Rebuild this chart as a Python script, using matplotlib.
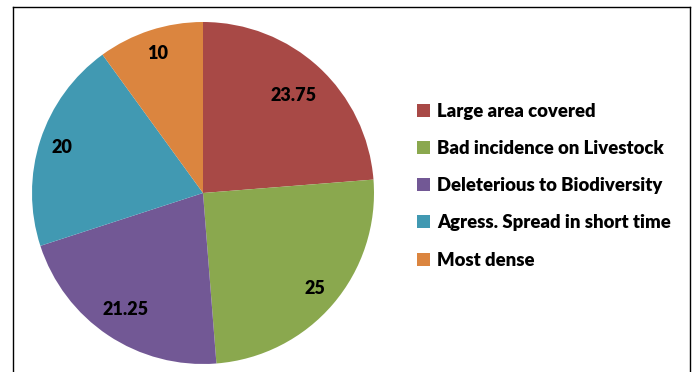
import numpy as np
import matplotlib.pyplot as plt
from matplotlib.lines import Line2D
from matplotlib.patches import Patch

# Datos del gráfico
categorias = ['Large area covered', 'Bad incidence on Livestock',
              'Deleterious to Biodiversity', 'Agress. Spread in short time',
              'Most dense']
valores = [23.75, 25, 21.25, 20, 10]
etiquetas = ['23.75', '25', '21.25', '20', '10']
colores = ['#A84946', '#8AA84E', '#725895', '#4199B2', '#DB853F']

# Distancia radial de cada etiqueta dentro de su porción
dist_etiquetas = [0.78, 0.86, 0.82, 0.87, 0.86]

plt.rcParams['font.family'] = ['Lato', 'DejaVu Sans']

fig = plt.figure(figsize=(6.94, 3.72), dpi=100)

# Pastel a la izquierda, centro ~ (203, 193) px
ax = fig.add_axes([32 / 694, 8 / 372, 342 / 694, 342 / 372])
wedges, textos = ax.pie(valores, labels=etiquetas, colors=colores,
                        startangle=90, counterclock=False, radius=1.0,
                        wedgeprops={'linewidth': 0},
                        textprops={'fontsize': 13, 'fontweight': 'heavy',
                                   'color': 'black', 'ha': 'center',
                                   'va': 'center'})
for w, t, d in zip(wedges, textos, dist_etiquetas):
    ang = np.deg2rad((w.theta1 + w.theta2) / 2)
    t.set_position((d * np.cos(ang), d * np.sin(ang)))
    t.set_ha('center')
    t.set_va('center')
ax.set_xlim(-1, 1)
ax.set_ylim(-1, 1)
ax.set_aspect('equal')
ax.axis('off')

# Leyenda a la derecha
handles = [Patch(facecolor=c, edgecolor='none') for c in colores]
fig.legend(handles, categorias, loc='upper left',
           bbox_to_anchor=(417 / 694, 1 - 103 / 372), frameon=False,
           prop={'size': 13.3, 'weight': 'heavy'}, handlelength=0.7,
           handleheight=0.7, handletextpad=0.4, labelspacing=1.09,
           borderaxespad=0, borderpad=0)

# Marco exterior (sin línea inferior)
x0, x1, y0 = 12.5 / 694, 689.5 / 694, 1 - 6.5 / 372
for xs, ys in [([x0, x0], [0, y0]), ([x0, x1], [y0, y0]), ([x1, x1], [y0, 0])]:
    fig.add_artist(Line2D(xs, ys, color='black', linewidth=1.0,
                          transform=fig.transFigure))

plt.savefig('out.png', dpi=100)
plt.close()
